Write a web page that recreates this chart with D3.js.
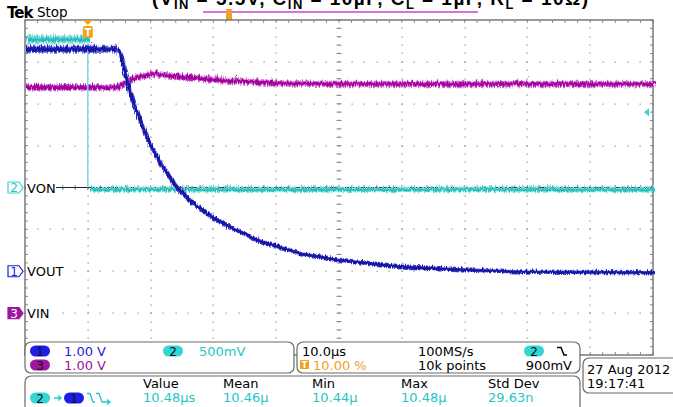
<!DOCTYPE html>
<html>
<head>
<meta charset="utf-8">
<script src="https://cdn.jsdelivr.net/npm/d3@7"></script>
<style>
  body { margin: 0; background: #fff; }
  svg { display: block; font-family: "DejaVu Sans", sans-serif; }
</style>
</head>
<body>
<svg id="chart" width="673" height="407"></svg>
<script>
// Scope settings (10 x 8 divisions)
const timeDomain = [-10, 90];          // µs, 10.0 µs/div, trigger at 10 %
const channels = {
  ch1: { vPerDiv: 1.0, offset: -2, label: 'VOUT' },
  ch2: { vPerDiv: 0.5, offset: 0, label: 'VON' },
  ch3: { vPerDiv: 1.0, offset: -3, label: 'VIN' }
};
const triggerLevel = 0.9;               // V on ch2

// Traces: time (µs) and volts
const vonTime  = [-10, -5, 0, 0, 20, 45, 70, 90];
const vonVolts = [1.79, 1.79, 1.79, 0.0, 0.0, 0.0, 0.0, 0.0];

const voutTime  = [-10, 0, 4.6, 5.1, 5.9, 6.7, 8.3, 9.9, 11.5, 13.9, 16.2, 19.4, 22.6, 27.4, 33.8, 40.1, 49.7, 59.2, 68.8, 90];
const voutVolts = [5.35, 5.35, 5.35, 5.16, 4.68, 4.20, 3.56, 3.01, 2.58, 2.05, 1.70, 1.34, 1.07, 0.74, 0.45, 0.29, 0.14, 0.07, 0.02, 0.0];

const vinTime  = [-10, 0, 4.6, 5.9, 7.5, 9.9, 12.3, 16.2, 22.6, 30.6, 40.1, 60, 90];
const vinVolts = [5.44, 5.44, 5.44, 5.59, 5.68, 5.76, 5.73, 5.66, 5.59, 5.54, 5.52, 5.52, 5.52];

// Readout texts
const scaleLabels = ['1.00 V', '500mV', '1.00 V'];
const horizLabels = ['10.0µs', '100MS/s', '10.00 %', '10k points', '900mV'];
const dateLabels = ['27 Aug 2012', '19:17:41'];
const measHeaders = ['Value', 'Mean', 'Min', 'Max', 'Std Dev'];
const measValues = ['10.48µs', '10.46µ', '10.44µ', '10.48µ', '29.63n'];

const colors = {
  ch1: { core: '#12129e', halo: '#5a5ae0', text: '#2323d6', pill: '#1e1ee6' },
  ch2: { core: '#26baba', halo: '#7edcdc', text: '#25c6c6', pill: '#33d6d6' },
  ch3: { core: '#a2069f', halo: '#d070ce', text: '#a0109e', pill: '#a0169e' },
  orange: '#f2a11e',
  grid: '#8a8a8a'
};

const svg = d3.select('#chart');
const frame = { left: 25, right: 653, top: 20, bottom: 355 };

const x = d3.scaleLinear().domain(timeDomain).range([frame.left, frame.right]);
const yDiv = d3.scaleLinear().domain([-4, 4]).range([frame.bottom, frame.top]);
const yCh = (ch, v) => yDiv(v / channels[ch].vPerDiv + channels[ch].offset);

// Noise filters to mimic the sampled jitter on the traces
const defs = svg.append('defs');
function jitterFilter(id, scale, seed) {
  const f = defs.append('filter')
    .attr('id', id)
    .attr('filterUnits', 'userSpaceOnUse')
    .attr('x', 0).attr('y', 0).attr('width', 673).attr('height', 407);
  f.append('feTurbulence')
    .attr('type', 'turbulence')
    .attr('baseFrequency', '0.8 0.1')
    .attr('numOctaves', 1)
    .attr('seed', seed)
    .attr('result', 'noise');
  f.append('feDisplacementMap')
    .attr('in', 'SourceGraphic')
    .attr('in2', 'noise')
    .attr('scale', scale)
    .attr('xChannelSelector', 'R')
    .attr('yChannelSelector', 'G');
}
jitterFilter('jitter', 6, 4);
jitterFilter('jitterSoft', 4, 7);

// ---------- Title (clipped at the top of the page) ----------
const title = svg.append('text')
  .attr('x', 152).attr('y', 5)
  .attr('font-family', '"Liberation Sans", Arial, sans-serif')
  .attr('font-weight', 'bold')
  .attr('font-size', 19)
  .attr('textLength', 436)
  .attr('lengthAdjust', 'spacing')
  .attr('fill', '#000');
[['(V', 0], ['IN', 1], [' = 5.5V, C', -1], ['IN', 1], [' = 10µF, C', -1], ['L', 1], [' = 1µF, R', -1], ['L', 1], [' = 10Ω)', -1]]
  .forEach(([t, sub]) => {
    title.append('tspan')
      .attr('dy', sub === 1 ? 4 : (sub === -1 ? -4 : 0))
      .attr('font-size', sub === 1 ? 13 : 19)
      .text(t);
  });

// record view bar
svg.append('line')
  .attr('x1', 203).attr('x2', 478).attr('y1', 12).attr('y2', 12)
  .attr('stroke', '#cc44cc').attr('stroke-width', 1.5);
svg.append('rect')
  .attr('x', 226).attr('y', 12).attr('width', 6).attr('height', 8)
  .attr('fill', colors.orange);
svg.append('path')
  .attr('d', 'M225,9 L233,9 L229,13 Z')
  .attr('fill', colors.orange);

// Tek Stop
svg.append('text')
  .attr('x', 7).attr('y', 18)
  .attr('font-family', '"DejaVu Sans", sans-serif')
  .attr('font-weight', 'bold')
  .attr('font-size', 15)
  .attr('letter-spacing', -1)
  .text('Tek');
svg.append('text')
  .attr('x', 37).attr('y', 17)
  .attr('font-size', 13.5)
  .text('Stop');

// ---------- Graticule ----------
const grat = svg.append('g').attr('class', 'graticule');
const majorT = d3.range(timeDomain[0] + 10, timeDomain[1], 10);   // internal vertical lines
const majorD = d3.range(-3, 4, 1);                                  // internal horizontal lines
const minorT = d3.range(timeDomain[0], timeDomain[1] + 0.01, 2);
const minorD = d3.range(-4, 4.01, 0.2);

// dotted lines
majorT.forEach(t => {
  minorD.forEach(d => {
    grat.append('rect')
      .attr('x', Math.round(x(t)) - 0.5).attr('y', Math.round(yDiv(d)) - 0.5)
      .attr('width', 1.2).attr('height', 1.2).attr('fill', colors.grid);
  });
});
majorD.forEach(d => {
  minorT.forEach(t => {
    grat.append('rect')
      .attr('x', Math.round(x(t)) - 0.5).attr('y', Math.round(yDiv(d)) - 0.5)
      .attr('width', 1.2).attr('height', 1.2).attr('fill', colors.grid);
  });
});

// centre ticks
minorD.forEach(d => {
  grat.append('line')
    .attr('x1', x(40) - 2.5).attr('x2', x(40) + 2.5)
    .attr('y1', yDiv(d)).attr('y2', yDiv(d))
    .attr('stroke', colors.grid).attr('stroke-width', 1);
});
minorT.forEach(t => {
  grat.append('line')
    .attr('x1', x(t)).attr('x2', x(t))
    .attr('y1', yDiv(0) - 2.5).attr('y2', yDiv(0) + 2.5)
    .attr('stroke', colors.grid).attr('stroke-width', 1);
});

// edge ticks
minorT.forEach(t => {
  grat.append('line').attr('x1', x(t)).attr('x2', x(t))
    .attr('y1', frame.top).attr('y2', frame.top + 3)
    .attr('stroke', colors.grid);
  grat.append('line').attr('x1', x(t)).attr('x2', x(t))
    .attr('y1', frame.bottom - 3).attr('y2', frame.bottom)
    .attr('stroke', colors.grid);
});
minorD.forEach(d => {
  grat.append('line').attr('x1', frame.left).attr('x2', frame.left + 3)
    .attr('y1', yDiv(d)).attr('y2', yDiv(d))
    .attr('stroke', colors.grid);
  grat.append('line').attr('x1', frame.right - 3).attr('x2', frame.right)
    .attr('y1', yDiv(d)).attr('y2', yDiv(d))
    .attr('stroke', colors.grid);
});

// centre horizontal line (solid)
grat.append('line')
  .attr('x1', frame.left).attr('x2', frame.right)
  .attr('y1', yDiv(0)).attr('y2', yDiv(0))
  .attr('stroke', '#222').attr('stroke-width', 1);

// frame
grat.append('rect')
  .attr('x', frame.left).attr('y', frame.top)
  .attr('width', frame.right - frame.left).attr('height', frame.bottom - frame.top)
  .attr('fill', 'none').attr('stroke', '#7a7a7a').attr('stroke-width', 1.5);

// ---------- Traces ----------
const traces = svg.append('g').attr('class', 'traces');
const lineFor = ch => d3.line().x(d => x(d[0])).y(d => yCh(ch, d[1]));

function drawTrace(ch, pts, haloW, coreW, filterId) {
  const g = traces.append('g').attr('filter', `url(#${filterId || 'jitter'})`);
  g.append('path')
    .attr('d', lineFor(ch)(pts))
    .attr('fill', 'none')
    .attr('stroke', colors[ch].halo)
    .attr('stroke-width', haloW)
    .attr('stroke-linejoin', 'round');
  g.append('path')
    .attr('d', lineFor(ch)(pts))
    .attr('fill', 'none')
    .attr('stroke', colors[ch].core)
    .attr('stroke-width', coreW)
    .attr('stroke-linejoin', 'round');
}

const zip = (ts, vs) => ts.map((t, i) => [t, vs[i]]);
const von = zip(vonTime, vonVolts);
const vout = zip(voutTime, voutVolts);
const vin = zip(vinTime, vinVolts);

// VIN (magenta)
drawTrace('ch3', vin, 6.5, 3.5);

// VON (cyan): edge drawn thin, flat parts noisy
const dropIdx = von.findIndex((d, i) => i > 0 && d[0] === von[i - 1][0]);
traces.append('path')
  .attr('d', lineFor('ch2')(von.slice(dropIdx - 1, dropIdx + 1)))
  .attr('stroke', colors.ch2.halo)
  .attr('stroke-width', 1.5)
  .attr('fill', 'none');
drawTrace('ch2', von.slice(0, dropIdx), 8, 3.5);
drawTrace('ch2', von.slice(dropIdx), 5.5, 2.5);

// VOUT (blue): flat top noisy, decay a bit cleaner
const knee = vout.findIndex((d, i) => i > 0 && d[1] < vout[i - 1][1]) - 1;
drawTrace('ch1', vout.slice(0, knee + 1), 7, 4);
drawTrace('ch1', vout.slice(knee), 4.5, 3, 'jitterSoft');

// ---------- Markers ----------
// trigger position marker
const tx = x(0);
svg.append('path')
  .attr('d', `M${tx - 5},${frame.top} L${tx + 5},${frame.top} L${tx},${frame.top + 5} Z`)
  .attr('fill', colors.orange);
svg.append('rect')
  .attr('x', tx - 5).attr('y', frame.top + 6).attr('width', 10).attr('height', 12)
  .attr('rx', 2).attr('fill', colors.orange);
svg.append('text')
  .attr('x', tx).attr('y', frame.top + 16)
  .attr('text-anchor', 'middle').attr('font-size', 10).attr('font-weight', 'bold')
  .attr('fill', '#fff').text('T');

// trigger level marker (right edge)
const ty = yCh('ch2', triggerLevel);
svg.append('path')
  .attr('d', `M${frame.right - 9},${ty} L${frame.right - 4},${ty - 4} L${frame.right - 4},${ty + 4} Z`)
  .attr('fill', colors.ch2.pill);

// channel ground markers
[['ch2', '2', false], ['ch1', '1', false], ['ch3', '3', true]].forEach(([ch, num, filled]) => {
  const gy = yCh(ch, 0);
  const c = colors[ch];
  svg.append('path')
    .attr('d', `M8,${gy - 5.5} L19,${gy - 5.5} L23,${gy} L19,${gy + 5.5} L8,${gy + 5.5} Z`)
    .attr('fill', filled ? c.pill : '#fff')
    .attr('stroke', c.pill)
    .attr('stroke-width', 1.2);
  svg.append('text')
    .attr('x', 14).attr('y', gy + 4.5)
    .attr('text-anchor', 'middle').attr('font-size', 12)
    .attr('fill', filled ? '#fff' : c.text)
    .text(num);
  svg.append('rect')
    .attr('x', 26).attr('y', gy - 7).attr('width', ch === 'ch1' ? 40 : 30).attr('height', 14)
    .attr('fill', '#fff');
  svg.append('text')
    .attr('x', 27).attr('y', gy + 5)
    .attr('font-size', 13)
    .attr('fill', '#000')
    .text(channels[ch].label);
});

// ---------- Readout panels ----------
const panels = svg.append('g').attr('class', 'panels');
function panel(x0, y0, x1, y1) {
  panels.append('rect')
    .attr('x', x0).attr('y', y0).attr('width', x1 - x0).attr('height', y1 - y0)
    .attr('rx', 6).attr('fill', '#fff')
    .attr('stroke', '#6a6a6a').attr('stroke-width', 1.2);
}
function pill(cx, cy, fill, label) {
  panels.append('rect')
    .attr('x', cx - 10).attr('y', cy - 5.5).attr('width', 20).attr('height', 11)
    .attr('rx', 5.5).attr('fill', fill);
  panels.append('text')
    .attr('x', cx).attr('y', cy + 4.5)
    .attr('text-anchor', 'middle').attr('font-size', 12)
    .attr('fill', '#111').text(label);
}
function label(tx, ty, str, fill, anchor) {
  panels.append('text')
    .attr('x', tx).attr('y', ty)
    .attr('font-size', 13)
    .attr('text-anchor', anchor || 'start')
    .attr('fill', fill).text(str);
}

panel(25, 342, 294, 373);
panel(297, 342, 580, 373);
panel(25, 376, 580, 420);
panel(583, 358, 680, 393);

// vertical settings
pill(40, 351, colors.ch1.pill, '1');
label(64, 356, scaleLabels[0], colors.ch1.text);
pill(173, 351, colors.ch2.pill, '2');
label(199, 356, scaleLabels[1], colors.ch2.text);
pill(40, 365, colors.ch3.pill, '3');
label(64, 370, scaleLabels[2], colors.ch3.text);

// horizontal / trigger settings
label(302, 356, horizLabels[0], '#000');
label(418, 356, horizLabels[1], '#000');
pill(534, 351, colors.ch2.pill, '2');
panels.append('path')
  .attr('d', 'M557,347.5 H561 L564,355 H567')
  .attr('fill', 'none').attr('stroke', '#000').attr('stroke-width', 1.5);
panels.append('rect')
  .attr('x', 300).attr('y', 360).attr('width', 9).attr('height', 9)
  .attr('rx', 1).attr('fill', colors.orange);
panels.append('text')
  .attr('x', 304.5).attr('y', 368).attr('text-anchor', 'middle')
  .attr('font-size', 8).attr('font-weight', 'bold').attr('fill', '#fff').text('T');
label(313, 370, horizLabels[2], colors.orange);
label(418, 370, horizLabels[3], '#000');
label(572, 370, horizLabels[4], '#000', 'end');

// date
label(587, 374, dateLabels[0], '#000');
label(587, 388, dateLabels[1], '#000');

// measurement
const measX = [143, 223, 312, 401, 488];
measHeaders.forEach((h, i) => label(measX[i], 388, h, '#000'));
measValues.forEach((v, i) => label(measX[i], 402, v, colors.ch2.text));

pill(40, 398, colors.ch2.pill, '2');
panels.append('path')
  .attr('d', 'M54,398 H61 M58,395.5 L61,398 L58,400.5')
  .attr('fill', 'none').attr('stroke', colors.ch2.text).attr('stroke-width', 1.3);
pill(74, 398, colors.ch1.pill, '1');
panels.append('path')
  .attr('d', 'M87,393.5 H90 L93,402 H95 M96,393.5 H99 L102,402 H110 M107,399.5 L110,402 L107,404.5')
  .attr('fill', 'none').attr('stroke', colors.ch2.text).attr('stroke-width', 1.3);
</script>
</body>
</html>
